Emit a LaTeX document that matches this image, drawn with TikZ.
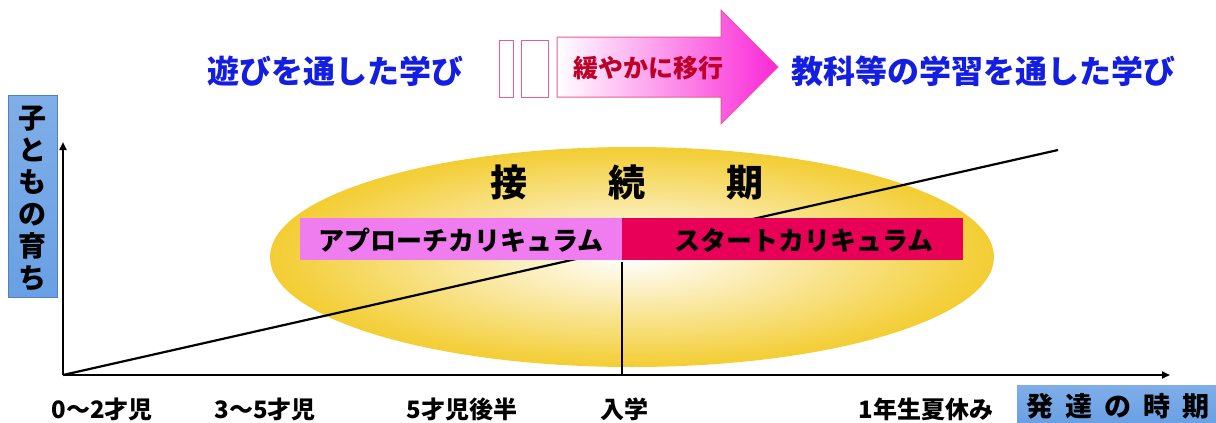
\documentclass[tikz,border=0pt]{standalone}
\usepackage{fontspec}
\setmainfont{Noto Sans CJK JP}
\usetikzlibrary{arrows.meta}
\definecolor{topblue}{RGB}{20,30,225}
\definecolor{boxblue}{RGB}{105,160,228}
\definecolor{arrmag}{RGB}{250,40,215}
\definecolor{arrline}{RGB}{235,90,150}
\definecolor{txtred}{RGB}{190,0,40}
\definecolor{barpink}{RGB}{240,125,240}
\definecolor{barred}{RGB}{232,0,88}
\definecolor{ellyel}{RGB}{243,205,50}
\tikzset{
  toptext/.style={text=topblue, font=\bfseries\fontsize{32}{34}\selectfont, inner sep=0},
  lbl/.style={font=\bfseries\fontsize{24}{26}\selectfont, inner sep=0},
  bartext/.style={font=\bfseries\fontsize{26}{28}\selectfont, inner sep=0},
  axis/.style={line width=2.2pt, -{Triangle[length=8pt,width=7pt]}},
}
\begin{document}
\begin{tikzpicture}[x=1pt,y=-1pt]
\useasboundingbox (0,0) rectangle (1216,423);
% top row
\node[toptext] (play) at (335,71) {遊びを通した学び};
\draw[arrline, line width=1pt] (499,40) rectangle (513,97);
\draw[arrline, line width=1pt] (521,40) rectangle (548,97);
\shade[left color=white, right color=arrmag, draw=arrline, line width=1pt]
  (557,37) -- (721,37) -- (721,10) -- (778,67) -- (721,124) -- (721,97) -- (557,97) -- cycle;
\node[font=\bfseries\fontsize{25}{27}\selectfont, text=txtred, inner sep=0] (move) at (648,68) {緩やかに移行};
\node[toptext] (study) at (983,71) {教科等の学習を通した学び};
% y label box
\shade[top color=boxblue!85, bottom color=boxblue, draw=boxblue!80!black, line width=0.4pt] (8,95) rectangle (57,297);
\node[font=\bfseries\fontsize{28}{32}\selectfont, align=center, inner sep=0] (grow) at (32,199) {子\\と\\も\\の\\育\\ち};
% ellipse
\shade[inner color=white, outer color=ellyel] (632,257) ellipse [x radius=362, y radius=110];
% axes
\coordinate (o) at (63,375);
\coordinate (ytop) at (63,142);
\coordinate (xend) at (1170,375);
\coordinate (dend) at (1058,150);
\draw[line width=2.2pt] (o) -- (dend);
\draw[axis] (o) -- (ytop);
\draw[axis] (o) -- (xend);
\coordinate (vtop) at (622,262);
\coordinate (vbot) at (622,375);
\draw[line width=2pt] (vtop) -- (vbot);
% title
\node[font=\bfseries\fontsize{37}{39}\selectfont, inner sep=0] (title) at (627,182) {接\hspace{2.2em}続\hspace{2.2em}期};
% bars
\fill[barpink] (300,218) rectangle (622,260);
\fill[barred] (622,218) rectangle (963,260);
\node[bartext] (app) at (461,240) {アプローチカリキュラム};
\node[bartext] (start) at (804,240) {スタートカリキュラム};
% bottom labels
\node[lbl] (a02) at (102,409) {0～2才児};
\node[lbl] (a35) at (265,409) {3～5才児};
\node[lbl] (a5) at (462,409) {5才児後半};
\node[lbl] (ent) at (624,409) {入学};
\node[lbl] (summer) at (926,409) {1年生夏休み};
\shade[top color=boxblue!85, bottom color=boxblue] (1017,385) rectangle (1216,423);
\node[font=\bfseries\fontsize{27}{29}\selectfont, inner sep=0] (period) at (1118,406) {発\hspace{0.45em}達\hspace{0.45em}の\hspace{0.45em}時\hspace{0.45em}期};
\end{tikzpicture}
\end{document}
